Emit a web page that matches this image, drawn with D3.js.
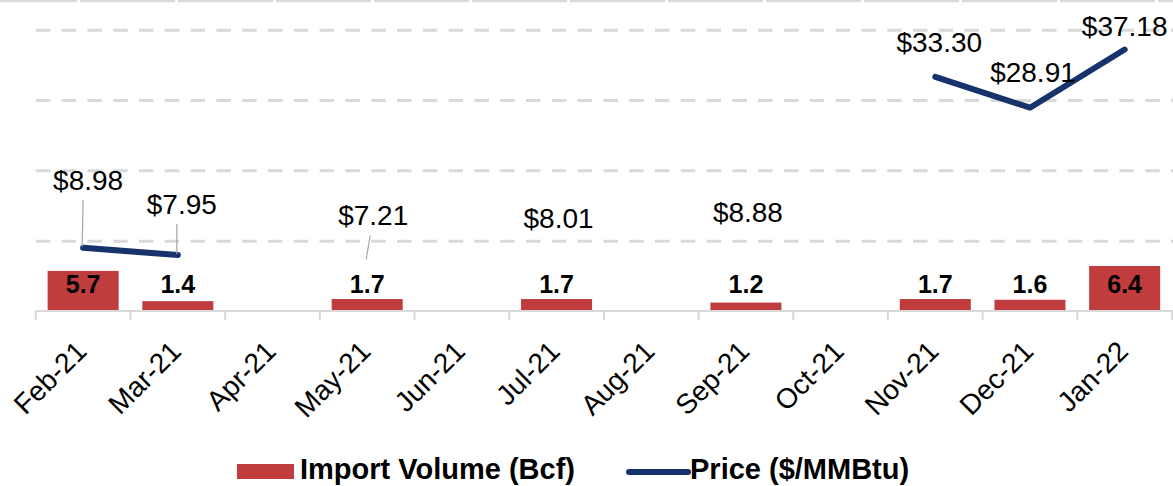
<!DOCTYPE html>
<html>
<head>
<meta charset="utf-8">
<script src="https://cdn.jsdelivr.net/npm/d3@7"></script>
<style>
  html, body { margin: 0; padding: 0; background: #fff; }
  svg { display: block; font-family: "Liberation Sans", Arial, sans-serif; }
</style>
</head>
<body>
<svg width="1173" height="486"></svg>
<script>
// chart data
const months = ['Feb-21', 'Mar-21', 'Apr-21', 'May-21', 'Jun-21', 'Jul-21',
                'Aug-21', 'Sep-21', 'Oct-21', 'Nov-21', 'Dec-21', 'Jan-22'];
const importVolume = [5.7, 1.4, null, 1.7, null, 1.7, null, 1.2, null, 1.7, 1.6, 6.4];
const price = [8.98, 7.95, null, 7.21, null, 8.01, null, 8.88, null, 33.30, 28.91, 37.18];
const gridTicks = [10, 20, 30, 40];

// hand placed price labels (offset from the point, like in the original)
const labelNudge = [[5, -58], [4, -41], [6, -35], [2, -27], [2, -27], [4, -25], [3, -26], [0, -14]];
const leaderIdx = [0, 1, 3]; // labels with leader lines

const svg = d3.select('svg');
const margin = {left: 35.8, top: 29.7, bottom: 311};
const red = '#c03c3d', navy = '#17336b', grid = '#d9d9d9';

const x = d3.scaleBand()
    .domain(months)
    .range([margin.left, 1172])
    .paddingInner(0.25)
    .paddingOuter(0.125);
const y = d3.scaleLinear().domain([0, 40]).range([margin.bottom, margin.top]);
const cx = m => x(m) + x.bandwidth() / 2;

// thin segmented rule at very top
svg.append('line')
    .attr('x1', 0).attr('x2', 1173).attr('y1', 1).attr('y2', 1)
    .attr('stroke', grid).attr('stroke-width', 2.5)
    .attr('stroke-dasharray', '95,3').attr('stroke-dashoffset', 18);

// dashed gridlines
svg.append('g')
    .attr('transform', `translate(${margin.left},0)`)
    .call(d3.axisLeft(y).tickValues(gridTicks).tickSize(-(1173 - margin.left)).tickFormat(''))
    .call(g => g.select('.domain').remove())
    .call(g => g.selectAll('line')
        .attr('stroke', grid).attr('stroke-width', 3)
        .attr('stroke-dasharray', '14.5,11.3'));

// bars
const barData = months.map((m, i) => ({m, v: importVolume[i]})).filter(d => d.v != null);
svg.selectAll('rect.bar')
    .data(barData)
    .enter().append('rect')
    .attr('class', 'bar')
    .attr('x', d => x(d.m))
    .attr('width', x.bandwidth())
    .attr('y', d => y(d.v))
    .attr('height', d => y(0) - y(d.v))
    .attr('fill', red);

// x axis with boundary ticks
const xAxis = svg.append('g').attr('transform', `translate(0,${y(0)})`);
xAxis.append('line')
    .attr('x1', margin.left).attr('x2', 1173)
    .attr('stroke', grid).attr('stroke-width', 2);
const step = x.step();
xAxis.selectAll('line.tk')
    .data(d3.range(months.length + 1))
    .enter().append('line')
    .attr('class', 'tk')
    .attr('x1', i => margin.left + i * step).attr('x2', i => margin.left + i * step)
    .attr('y1', 0).attr('y2', 9)
    .attr('stroke', grid).attr('stroke-width', 2);
xAxis.selectAll('text')
    .data(months)
    .enter().append('text')
    .attr('transform', m => `translate(${cx(m) + 5},42) rotate(-45)`)
    .attr('text-anchor', 'end')
    .attr('font-size', 28)
    .attr('fill', '#000')
    .text(m => m);

// bar value labels
svg.selectAll('text.barlab')
    .data(barData)
    .enter().append('text')
    .attr('class', 'barlab')
    .attr('x', d => cx(d.m))
    .attr('y', y(0) - 18.5)
    .attr('text-anchor', 'middle')
    .attr('font-size', 25)
    .attr('font-weight', 'bold')
    .text(d => d.v.toFixed(1));

// price line: only joins neighbouring months that both have a price
const pts = months.map((m, i) => ({m, p: price[i]}));
const joined = (d, i) => d.p != null &&
    ((i > 0 && price[i - 1] != null) || (i < price.length - 1 && price[i + 1] != null));
const line = d3.line()
    .defined(joined)
    .x(d => cx(d.m))
    .y(d => y(d.p));
svg.append('path')
    .attr('d', line(pts))
    .attr('fill', 'none')
    .attr('stroke', navy)
    .attr('stroke-width', 6)
    .attr('stroke-linecap', 'round')
    .attr('stroke-linejoin', 'round');

// price labels
const labelled = pts.filter(d => d.p != null);
labelled.forEach((d, k) => {
    const lx = cx(d.m) + labelNudge[k][0];
    const ly = y(d.p) + labelNudge[k][1];
    if (leaderIdx.includes(months.indexOf(d.m))) {
        svg.append('line')
            .attr('x1', lx - 5 + (k === 2 ? 2 : 0)).attr('y1', ly + 10)
            .attr('x2', cx(d.m) - 1).attr('y2', y(d.p) - 1)
            .attr('stroke', '#a6a6a6').attr('stroke-width', 1.2);
    }
    svg.append('text')
        .attr('x', lx).attr('y', ly)
        .attr('text-anchor', 'middle')
        .attr('font-size', 28)
        .attr('fill', '#000')
        .text('$' + d.p.toFixed(2));
});

// legend
const lg = svg.append('g');
lg.append('rect').attr('x', 237).attr('y', 464).attr('width', 57).attr('height', 15).attr('fill', red);
lg.append('text').attr('x', 300).attr('y', 479).attr('font-size', 29).attr('font-weight', 'bold')
    .text('Import Volume (Bcf)');
lg.append('line').attr('x1', 629).attr('x2', 688).attr('y1', 472).attr('y2', 472)
    .attr('stroke', navy).attr('stroke-width', 6).attr('stroke-linecap', 'round');
lg.append('text').attr('x', 690).attr('y', 479).attr('font-size', 29).attr('font-weight', 'bold')
    .text('Price ($/MMBtu)');
</script>
</body>
</html>
